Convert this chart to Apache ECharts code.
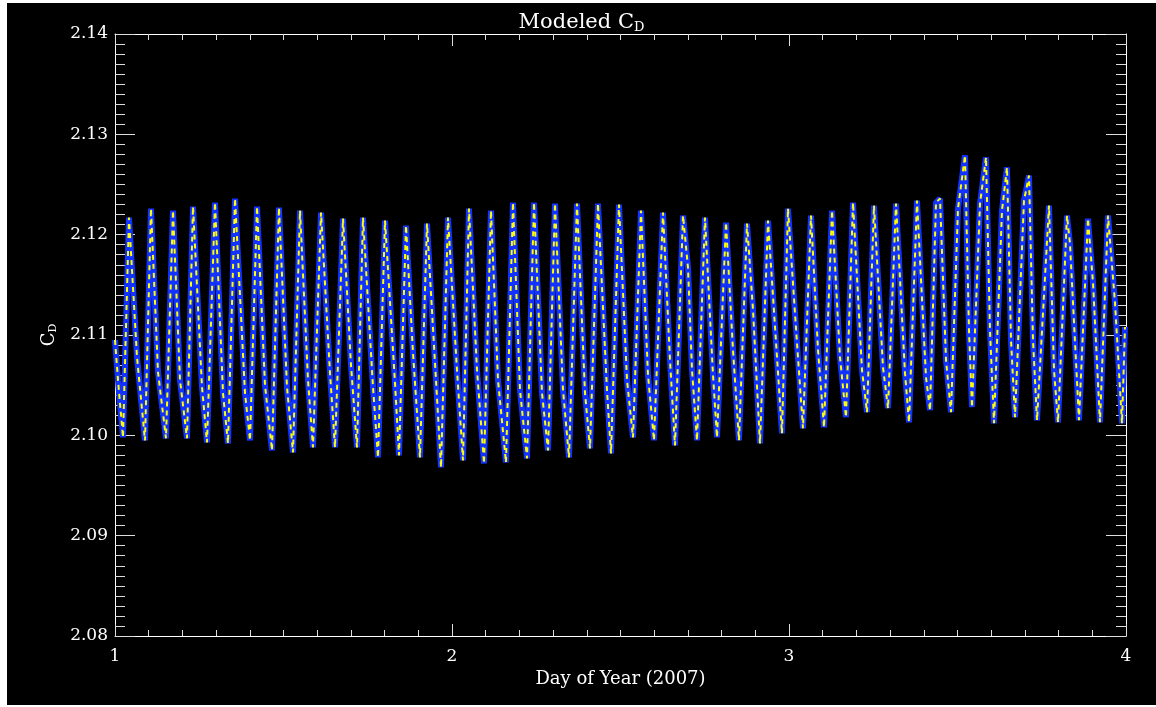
<!DOCTYPE html>
<html>
<head>
<meta charset="utf-8">
<script src="https://cdn.jsdelivr.net/npm/echarts@6/dist/echarts.min.js"></script>
<style>
  html, body { margin: 0; padding: 0; background: #fff; }
  #chart { position: absolute; left: 7px; top: 3px; width: 1149px; height: 702px; background: #000; }
</style>
</head>
<body>
<div id="chart"></div>
<script>
// day of year and modeled drag coefficient
const days = [
  1.0000, 1.0089, 1.0237, 1.0415, 1.0653, 1.0890, 1.1068, 1.1276, 1.1513, 1.1721,
  1.1929, 1.2136, 1.2315, 1.2582, 1.2730, 1.2967, 1.3205, 1.3353, 1.3561, 1.3858,
  1.4006, 1.4214, 1.4451, 1.4659, 1.4866, 1.5104, 1.5282, 1.5490, 1.5727, 1.5875,
  1.6113, 1.6380, 1.6528, 1.6766, 1.7003, 1.7181, 1.7359, 1.7656, 1.7804, 1.8012,
  1.8309, 1.8427, 1.8635, 1.8843, 1.9050, 1.9258, 1.9496, 1.9674, 1.9881, 2.0148,
  2.0326, 2.0504, 2.0742, 2.0950, 2.1157, 2.1365, 2.1602, 2.1810, 2.2018, 2.2226,
  2.2433, 2.2671, 2.2849, 2.3056, 2.3294, 2.3472, 2.3709, 2.3947, 2.4095, 2.4332,
  2.4599, 2.4718, 2.4955, 2.5193, 2.5371, 2.5608, 2.5816, 2.5994, 2.6261, 2.6469,
  2.6617, 2.6855, 2.7003, 2.7122, 2.7270, 2.7507, 2.7596, 2.7745, 2.7864, 2.8131,
  2.8338, 2.8516, 2.8754, 2.8932, 2.9139, 2.9377, 2.9585, 2.9792, 2.9970, 3.0237,
  3.0415, 3.0653, 3.0861, 3.1039, 3.1276, 3.1513, 3.1691, 3.1899, 3.2166, 3.2315,
  3.2522, 3.2789, 3.2938, 3.3175, 3.3442, 3.3561, 3.3798, 3.4065, 3.4184, 3.4362,
  3.4481, 3.4659, 3.4807, 3.5015, 3.5223, 3.5341, 3.5430, 3.5668, 3.5846, 3.5964,
  3.6083, 3.6320, 3.6469, 3.6588, 3.6706, 3.6973, 3.7122, 3.7240, 3.7359, 3.7715,
  3.7864, 3.7982, 3.8249, 3.8338, 3.8605, 3.8872, 3.9021, 3.9228, 3.9466, 3.9674,
  3.9881, 3.9970
]
const cd = [
  2.1095, 2.1055, 2.0998, 2.1217, 2.1078, 2.0995, 2.1226, 2.1063, 2.0997, 2.1224,
  2.1055, 2.0997, 2.1228, 2.1048, 2.0993, 2.1232, 2.1042, 2.0992, 2.1236, 2.1042,
  2.0995, 2.1228, 2.1050, 2.0985, 2.1227, 2.1048, 2.0983, 2.1224, 2.1055, 2.0988,
  2.1222, 2.1062, 2.0988, 2.1216, 2.1070, 2.0988, 2.1217, 2.1048, 2.0978, 2.1214,
  2.1052, 2.0980, 2.1209, 2.1082, 2.0978, 2.1211, 2.1072, 2.0968, 2.1217, 2.1065,
  2.0975, 2.1226, 2.1065, 2.0972, 2.1224, 2.1055, 2.0973, 2.1232, 2.1045, 2.0977,
  2.1232, 2.1042, 2.0985, 2.1231, 2.1045, 2.0978, 2.1231, 2.1042, 2.0987, 2.1231,
  2.1045, 2.0982, 2.1230, 2.1055, 2.0998, 2.1224, 2.1060, 2.0995, 2.1222, 2.1075,
  2.0990, 2.1219, 2.1167, 2.1065, 2.0995, 2.1217, 2.1158, 2.1060, 2.0998, 2.1212,
  2.1085, 2.0995, 2.1211, 2.1125, 2.0992, 2.1214, 2.1108, 2.1002, 2.1226, 2.1092,
  2.1007, 2.1219, 2.1085, 2.1008, 2.1224, 2.1078, 2.1018, 2.1232, 2.1065, 2.1023,
  2.1229, 2.1068, 2.1027, 2.1231, 2.1062, 2.1013, 2.1234, 2.1058, 2.1025, 2.1232,
  2.1236, 2.1075, 2.1023, 2.1226, 2.1279, 2.1105, 2.1028, 2.1231, 2.1277, 2.1105,
  2.1012, 2.1224, 2.1267, 2.1095, 2.1018, 2.1234, 2.1259, 2.1095, 2.1015, 2.1229,
  2.1065, 2.1013, 2.1219, 2.1191, 2.1015, 2.1216, 2.1152, 2.1013, 2.1219, 2.1132,
  2.1012, 2.1108
]
const xTicks = [1, 2, 3, 4]
const yTicks = [2.08, 2.09, 2.10, 2.11, 2.12, 2.13, 2.14]

const font = 'DejaVu Serif'
const points = days.map((d, i) => [d, cd[i]])

const chart = echarts.init(document.getElementById('chart'))

function xAxisOpt (pos, labels) {
  return {
    type: 'value',
    position: pos,
    min: xTicks[0],
    max: xTicks[xTicks.length - 1],
    interval: 1,
    name: labels ? 'Day of Year (2007)' : '',
    nameLocation: 'middle',
    nameGap: 33,
    nameTextStyle: { color: '#fff', fontFamily: font, fontSize: 18 },
    axisLine: { show: true, onZero: false, lineStyle: { color: '#fff', width: 1 } },
    axisTick: { show: true, inside: true, length: 12, lineStyle: { color: '#ddd' } },
    minorTick: { show: true, splitNumber: 10, length: 6, lineStyle: { color: '#ddd' } },
    splitLine: { show: false },
    axisLabel: { show: labels, color: '#fff', fontFamily: font, fontSize: 17, margin: 12 }
  }
}

function yAxisOpt (pos, labels) {
  return {
    type: 'value',
    position: pos,
    min: yTicks[0],
    max: yTicks[yTicks.length - 1],
    interval: 0.01,
    name: labels ? 'C{sub|D}' : '',
    nameLocation: 'middle',
    nameRotate: 90,
    nameGap: 56,
    nameTextStyle: {
      color: '#fff',
      fontFamily: font,
      fontSize: 18,
      rich: { sub: { color: '#fff', fontFamily: font, fontSize: 11, padding: [8, 0, 0, 0] } }
    },
    axisLine: { show: true, onZero: false, lineStyle: { color: '#fff', width: 1 } },
    axisTick: { show: true, inside: true, length: 20, lineStyle: { color: '#ddd' } },
    minorTick: { show: true, splitNumber: 10, length: 10, lineStyle: { color: '#ddd' } },
    splitLine: { show: false },
    axisLabel: {
      show: labels,
      color: '#fff',
      fontFamily: font,
      fontSize: 17,
      margin: 7,
      formatter: v => v.toFixed(2)
    }
  }
}

chart.setOption({
  animation: false,
  backgroundColor: '#000',
  title: {
    text: 'Modeled C{sub|D}',
    left: 'center',
    top: 3,
    textStyle: {
      color: '#fff',
      fontFamily: font,
      fontSize: 21,
      fontWeight: 'normal',
      rich: { sub: { color: '#fff', fontFamily: font, fontSize: 13, padding: [10, 0, 0, 0] } }
    }
  },
  grid: { left: 108, right: 30, top: 31, bottom: 69, containLabel: false },
  xAxis: [xAxisOpt('bottom', true), xAxisOpt('top', false)],
  yAxis: [yAxisOpt('left', true), yAxisOpt('right', false)],
  series: [
    {
      type: 'line',
      data: points,
      symbol: 'none',
      lineStyle: { color: '#1232ff', width: 6 },
      z: 2
    },
    {
      type: 'line',
      data: points,
      symbol: 'none',
      lineStyle: { color: '#ffff00', width: 2, type: [5, 4] },
      z: 3
    }
  ]
})
</script>
</body>
</html>
